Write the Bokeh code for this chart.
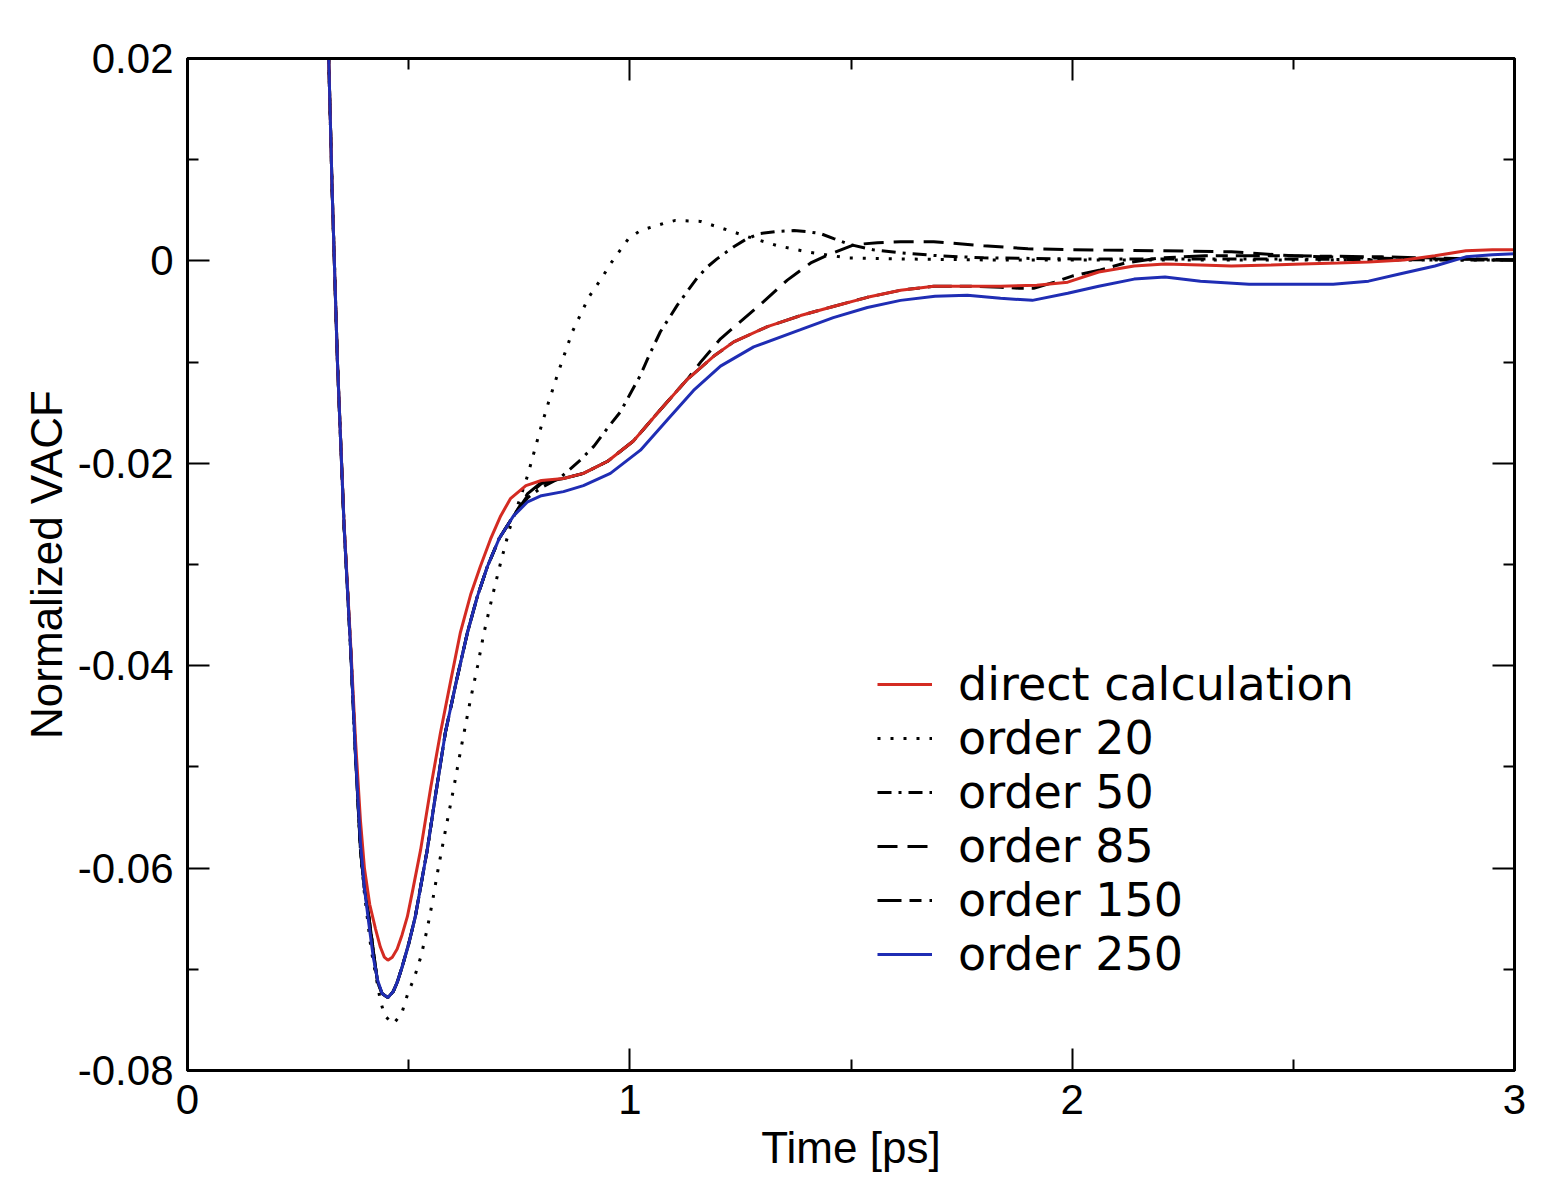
from bokeh.plotting import figure
from bokeh.models import (Range1d, FixedTicker, LinearAxis, Legend, LegendItem,
                          CustomJSTickFormatter)
from bokeh.embed import file_html
from bokeh.resources import INLINE

# ---------------- data (time [ps], normalized VACF) ----------------
direct = [
    (0.000, 1.0), (0.300, 0.045), (0.319, 0.0205), (0.327, 0.0070), (0.339, -0.0100),
    (0.354, -0.0260), (0.369, -0.0380), (0.380, -0.0475), (0.391, -0.0553), (0.400, -0.0600),
    (0.412, -0.0636), (0.425, -0.0660), (0.436, -0.0678), (0.445, -0.0688), (0.453, -0.0691),
    (0.463, -0.0688), (0.474, -0.0680), (0.485, -0.0666), (0.497, -0.0648), (0.510, -0.0620),
    (0.527, -0.0582), (0.550, -0.0520), (0.572, -0.0466), (0.595, -0.0415), (0.617, -0.0367),
    (0.640, -0.0330), (0.662, -0.0302), (0.685, -0.0275), (0.708, -0.0252), (0.730, -0.0235),
    (0.765, -0.0222), (0.800, -0.0217), (0.850, -0.0215), (0.895, -0.0210), (0.950, -0.0198),
    (1.008, -0.0178), (1.069, -0.0147), (1.130, -0.0117), (1.190, -0.0094), (1.235, -0.0080),
    (1.311, -0.0065), (1.386, -0.0054), (1.460, -0.0045), (1.537, -0.0036), (1.612, -0.0029),
    (1.687, -0.0025), (1.760, -0.0025), (1.838, -0.0025), (1.920, -0.0024), (1.990, -0.0021),
    (2.060, -0.0011), (2.140, -0.0005), (2.210, -0.0003), (2.290, -0.0004), (2.360, -0.0005),
    (2.450, -0.0004), (2.520, -0.0003), (2.600, -0.0002), (2.670, -0.0001), (2.750, 0.0001),
    (2.820, 0.0005), (2.890, 0.0010), (2.950, 0.0011), (3.000, 0.0011),
]

order20 = [
    (0.000, 1.0), (0.300, 0.045), (0.319, 0.0205), (0.327, 0.0070), (0.339, -0.0100),
    (0.354, -0.0262), (0.369, -0.0385), (0.380, -0.0490), (0.391, -0.0582), (0.400, -0.0625),
    (0.415, -0.0680), (0.436, -0.0731), (0.446, -0.0746), (0.465, -0.0754), (0.484, -0.0744),
    (0.498, -0.0724), (0.513, -0.0708), (0.528, -0.0687), (0.542, -0.0660), (0.553, -0.0635),
    (0.567, -0.0600), (0.583, -0.0563), (0.600, -0.0525), (0.620, -0.0478), (0.640, -0.0433),
    (0.656, -0.0400), (0.670, -0.0368), (0.690, -0.0330), (0.708, -0.0298), (0.728, -0.0265),
    (0.750, -0.0237), (0.769, -0.0212), (0.798, -0.0166), (0.816, -0.0140), (0.839, -0.0109),
    (0.870, -0.0070), (0.907, -0.0036), (0.938, -0.0016), (0.956, -0.0003), (0.997, 0.0022),
    (1.024, 0.0030), (1.076, 0.0037), (1.103, 0.0040), (1.160, 0.0039), (1.210, 0.0032),
    (1.266, 0.0024), (1.334, 0.0015), (1.400, 0.0009), (1.490, 0.0003), (1.600, 0.0002),
    (1.800, 0.0001), (2.000, 0.0001), (2.400, 0.0001), (2.800, 0.0001), (3.000, 0.0001),
]

order50 = [
    (0.000, 1.0), (0.300, 0.045), (0.319, 0.0205), (0.327, 0.0070), (0.339, -0.0100),
    (0.354, -0.0262), (0.369, -0.0385), (0.380, -0.0490), (0.391, -0.0582), (0.400, -0.0620),
    (0.410, -0.0648), (0.425, -0.0698), (0.430, -0.0713), (0.440, -0.0724), (0.453, -0.0728),
    (0.465, -0.0722), (0.474, -0.0713), (0.485, -0.0698), (0.500, -0.0675), (0.515, -0.0648),
    (0.542, -0.0582), (0.560, -0.0530), (0.583, -0.0466), (0.608, -0.0415), (0.633, -0.0367),
    (0.655, -0.0332), (0.678, -0.0302), (0.705, -0.0274), (0.737, -0.0252), (0.769, -0.0234),
    (0.800, -0.0224), (0.840, -0.0215), (0.859, -0.0208), (0.890, -0.0196), (0.919, -0.0183),
    (0.950, -0.0165), (0.979, -0.0149), (1.000, -0.0132), (1.024, -0.0113), (1.045, -0.0092),
    (1.069, -0.0070), (1.088, -0.0057), (1.107, -0.0044), (1.130, -0.0030), (1.152, -0.0017),
    (1.175, -0.0006), (1.197, 0.0002), (1.235, 0.0014), (1.265, 0.0022), (1.295, 0.0027),
    (1.330, 0.0029), (1.371, 0.0030), (1.400, 0.0029), (1.431, 0.0027), (1.461, 0.0022),
    (1.499, 0.0016), (1.550, 0.0011), (1.610, 0.0008), (1.700, 0.0005), (1.800, 0.0003),
    (2.000, 0.0002), (2.400, 0.0002), (2.800, 0.0001), (3.000, 0.0001),
]

order85 = [
    (0.000, 1.0), (0.300, 0.045), (0.319, 0.0205), (0.327, 0.0070), (0.339, -0.0100),
    (0.354, -0.0262), (0.369, -0.0385), (0.380, -0.0490), (0.391, -0.0582), (0.400, -0.0620),
    (0.410, -0.0648), (0.425, -0.0698), (0.430, -0.0713), (0.440, -0.0724), (0.453, -0.0728),
    (0.465, -0.0722), (0.474, -0.0713), (0.485, -0.0698), (0.500, -0.0675), (0.515, -0.0648),
    (0.542, -0.0582), (0.560, -0.0530), (0.583, -0.0466), (0.608, -0.0415), (0.633, -0.0367),
    (0.655, -0.0332), (0.678, -0.0302), (0.705, -0.0274), (0.737, -0.0252), (0.769, -0.0232),
    (0.800, -0.0220), (0.850, -0.0215), (0.895, -0.0210), (0.950, -0.0198), (1.008, -0.0178),
    (1.069, -0.0147), (1.130, -0.0117), (1.160, -0.0100), (1.205, -0.0077), (1.250, -0.0060),
    (1.303, -0.0040), (1.356, -0.0019), (1.409, -0.0002), (1.454, 0.0007), (1.507, 0.0016),
    (1.560, 0.0018), (1.612, 0.0019), (1.687, 0.0019), (1.800, 0.0015), (1.900, 0.0012),
    (2.000, 0.0011), (2.200, 0.0010), (2.360, 0.0009), (2.500, 0.0005), (2.650, 0.0003),
    (2.800, 0.0002), (3.000, 0.0001),
]

order150 = [
    (0.000, 1.0), (0.300, 0.045), (0.319, 0.0205), (0.327, 0.0070), (0.339, -0.0100),
    (0.354, -0.0262), (0.369, -0.0385), (0.380, -0.0490), (0.391, -0.0582), (0.400, -0.0620),
    (0.410, -0.0648), (0.425, -0.0698), (0.430, -0.0713), (0.440, -0.0724), (0.453, -0.0728),
    (0.465, -0.0722), (0.474, -0.0713), (0.485, -0.0698), (0.500, -0.0675), (0.515, -0.0648),
    (0.542, -0.0582), (0.560, -0.0530), (0.583, -0.0466), (0.608, -0.0415), (0.633, -0.0367),
    (0.655, -0.0332), (0.678, -0.0302), (0.705, -0.0274), (0.737, -0.0252), (0.769, -0.0230),
    (0.800, -0.0219), (0.850, -0.0215), (0.895, -0.0210), (0.950, -0.0198), (1.008, -0.0178),
    (1.069, -0.0147), (1.130, -0.0117), (1.190, -0.0094), (1.235, -0.0080), (1.311, -0.0065),
    (1.386, -0.0054), (1.460, -0.0045), (1.537, -0.0036), (1.612, -0.0029), (1.687, -0.0025),
    (1.760, -0.0025), (1.838, -0.0026), (1.880, -0.0027), (1.913, -0.0027), (1.960, -0.0021),
    (2.000, -0.0015), (2.064, -0.0009), (2.120, -0.0002), (2.200, 0.0003), (2.300, 0.0005),
    (2.500, 0.0005), (2.700, 0.0004), (2.800, 0.0003), (2.900, 0.0002), (3.000, 0.0001),
]

order250 = [
    (0.000, 1.0), (0.300, 0.045), (0.319, 0.0205), (0.327, 0.0070), (0.339, -0.0100),
    (0.354, -0.0262), (0.369, -0.0385), (0.380, -0.0490), (0.391, -0.0575), (0.400, -0.0620),
    (0.410, -0.0655), (0.420, -0.0688), (0.430, -0.0711), (0.440, -0.0724), (0.453, -0.0728),
    (0.465, -0.0722), (0.474, -0.0713), (0.485, -0.0698), (0.500, -0.0675), (0.515, -0.0648),
    (0.542, -0.0582), (0.560, -0.0530), (0.583, -0.0466), (0.608, -0.0415), (0.633, -0.0367),
    (0.655, -0.0332), (0.678, -0.0302), (0.705, -0.0274), (0.737, -0.0252), (0.769, -0.0238),
    (0.800, -0.0232), (0.850, -0.0228), (0.895, -0.0222), (0.956, -0.0210), (1.024, -0.0187),
    (1.085, -0.0157), (1.144, -0.0128), (1.205, -0.0104), (1.280, -0.0085), (1.386, -0.0068),
    (1.460, -0.0056), (1.537, -0.0046), (1.612, -0.0039), (1.690, -0.0035), (1.763, -0.0034),
    (1.838, -0.0037), (1.910, -0.0039), (1.990, -0.0032), (2.060, -0.0025), (2.140, -0.0018),
    (2.210, -0.0016), (2.290, -0.0020), (2.400, -0.0023), (2.500, -0.0023), (2.590, -0.0023),
    (2.670, -0.0020), (2.740, -0.0013), (2.820, -0.0005), (2.890, 0.0004), (2.950, 0.0006),
    (3.000, 0.0007),
]

labels = ["direct calculation", "order 20", "order 50", "order 85", "order 150", "order 250"]
x_major = [0, 1, 2, 3]
x_minor = [0.5, 1.5, 2.5]
y_major = [-0.08, -0.06, -0.04, -0.02, 0.0, 0.02]
y_minor = [-0.07, -0.05, -0.03, -0.01, 0.01]

FONT = "Liberation Sans"

p = figure(width=1557, height=1182, output_backend="svg", toolbar_location=None,
           x_range=Range1d(0, 3), y_range=Range1d(-0.08, 0.02),
           min_border_left=187, min_border_right=43, min_border_top=58,
           min_border_bottom=112, x_axis_location=None, y_axis_location=None)
p.grid.visible = False
p.background_fill_color = "white"
p.border_fill_color = "white"
p.outline_line_color = "black"
p.outline_line_width = 3


def style_axis(ax, ticks, minor, show_labels, fmt_code):
    ax.ticker = FixedTicker(ticks=ticks, minor_ticks=minor)
    ax.axis_line_color = "black"
    ax.axis_line_width = 3
    ax.major_tick_in = 22
    ax.major_tick_out = 0
    ax.minor_tick_in = 11
    ax.minor_tick_out = 0
    ax.major_tick_line_width = 2
    ax.minor_tick_line_width = 2
    ax.major_tick_line_color = "black"
    ax.minor_tick_line_color = "black"
    ax.formatter = CustomJSTickFormatter(code=fmt_code)
    ax.major_label_text_font = FONT
    ax.major_label_text_font_size = "42px"
    ax.major_label_text_color = "black" if show_labels else None
    ax.axis_label_text_font = FONT
    ax.axis_label_text_font_size = "44px"
    ax.axis_label_text_font_style = "normal"
    ax.axis_label_text_color = "black"


xfmt = "return tick.toFixed(0);"
yfmt = "if (Math.abs(tick) < 1e-9) { return '0'; } return tick.toFixed(2);"

xb = LinearAxis(axis_label="Time [ps]")
style_axis(xb, x_major, x_minor, True, xfmt)
xb.major_label_standoff = 14
xb.axis_label_standoff = 6
p.add_layout(xb, "below")

xt = LinearAxis()
style_axis(xt, x_major, x_minor, False, xfmt)
p.add_layout(xt, "above")

yl = LinearAxis(axis_label="Normalized VACF")
style_axis(yl, y_major, y_minor, True, yfmt)
yl.major_label_standoff = 14
yl.axis_label_standoff = 4
p.add_layout(yl, "left")

yr = LinearAxis()
style_axis(yr, y_major, y_minor, False, yfmt)
p.add_layout(yr, "right")

RED = "#d42b22"
BLUE = "#1f2db4"


def xy(series):
    return [a for a, b in series], [b for a, b in series]


# black curves first, then red, then blue on top
x, y = xy(order20)
r20 = p.line(x, y, line_color="black", line_width=3, line_dash="3 10")
x, y = xy(order50)
r50 = p.line(x, y, line_color="black", line_width=3, line_dash="14 7 3 7")
x, y = xy(order85)
r85 = p.line(x, y, line_color="black", line_width=3, line_dash="20 10")
x, y = xy(order150)
r150 = p.line(x, y, line_color="black", line_width=3, line_dash="24 8 12 8")
x, y = xy(direct)
rd = p.line(x, y, line_color=RED, line_width=3)
x, y = xy(order250)
r250 = p.line(x, y, line_color=BLUE, line_width=3)

legend = Legend(items=[LegendItem(label=labels[0], renderers=[rd]),
                       LegendItem(label=labels[1], renderers=[r20]),
                       LegendItem(label=labels[2], renderers=[r50]),
                       LegendItem(label=labels[3], renderers=[r85]),
                       LegendItem(label=labels[4], renderers=[r150]),
                       LegendItem(label=labels[5], renderers=[r250])],
                location=(690, 89), border_line_color=None, background_fill_alpha=0,
                padding=0, spacing=0, margin=0, glyph_width=55, glyph_height=40,
                label_standoff=26, label_height=52, label_text_font="DejaVu Sans",
                label_text_font_size="46px", label_text_color="black")
p.add_layout(legend)

open("out.html", "w").write(file_html(p, INLINE))
